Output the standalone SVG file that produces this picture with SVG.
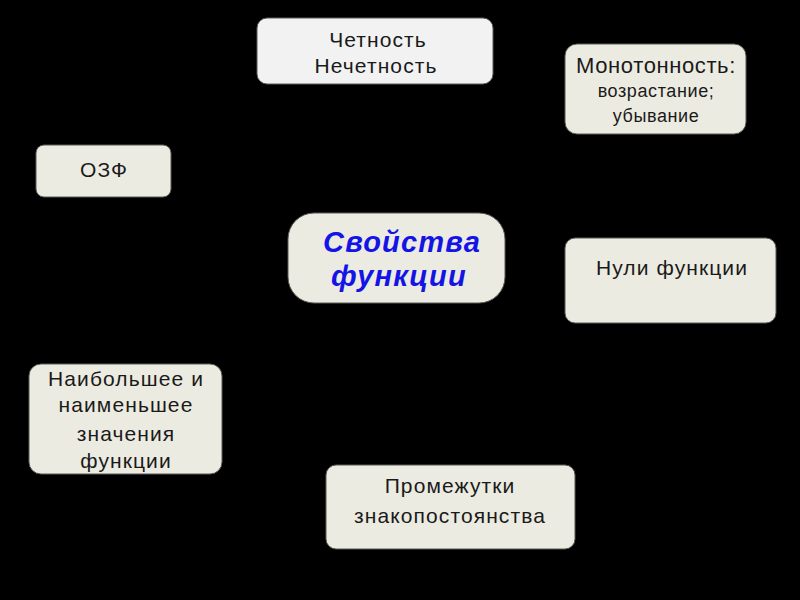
<svg xmlns="http://www.w3.org/2000/svg" width="800" height="600" viewBox="0 0 800 600">
<defs>
<style>
.box{fill:#ecebe1;stroke:#5a5a55;stroke-width:1}
.t{font-family:"Liberation Sans",Arial,sans-serif;font-size:21px;fill:#1a1a1a;text-anchor:middle;letter-spacing:1.1px}
.m{font-size:22px;letter-spacing:0.6px}
.s{font-size:18px;letter-spacing:0.6px}
.c{font-family:"Liberation Sans",Arial,sans-serif;font-size:29px;font-weight:bold;font-style:italic;fill:#1414e6;text-anchor:middle;letter-spacing:1.2px}
</style>
</defs>
<rect width="800" height="600" fill="#000"/>
<g id="connectors"></g>
<g id="chetnost">
<rect class="box" x="257" y="18" width="236" height="66" rx="10" style="fill:#f2f2f2"/>
<text class="t" x="378" y="47">Четность</text>
<text class="t" x="376" y="73">Нечетность</text>
</g>
<g id="monotonnost">
<rect class="box" x="565" y="44" width="181" height="90" rx="12"/>
<text class="t m" x="656" y="73">Монотонность:</text>
<text class="t s" x="656" y="97">возрастание;</text>
<text class="t s" x="656" y="122">убывание</text>
</g>
<g id="ozf">
<rect class="box" x="36" y="145" width="135" height="52" rx="8"/>
<text class="t" x="104" y="177">ОЗФ</text>
</g>
<g id="center">
<rect class="box" x="288" y="213" width="217" height="90" rx="26"/>
<text class="c" x="402" y="252">Свойства</text>
<text class="c" x="399" y="286">функции</text>
</g>
<g id="nuli">
<rect class="box" x="565" y="238" width="211" height="85" rx="10"/>
<text class="t" x="672" y="275">Нули функции</text>
</g>
<g id="naib">
<rect class="box" x="29" y="364" width="193" height="110" rx="12"/>
<text class="t" x="126" y="386">Наибольшее и</text>
<text class="t" x="126" y="412">наименьшее</text>
<text class="t" x="126" y="441">значения</text>
<text class="t" x="126" y="468">функции</text>
</g>
<g id="promezhutki">
<rect class="box" x="326" y="465" width="249" height="84" rx="10"/>
<text class="t" x="450" y="493">Промежутки</text>
<text class="t" x="450" y="523">знакопостоянства</text>
</g>
</svg>
